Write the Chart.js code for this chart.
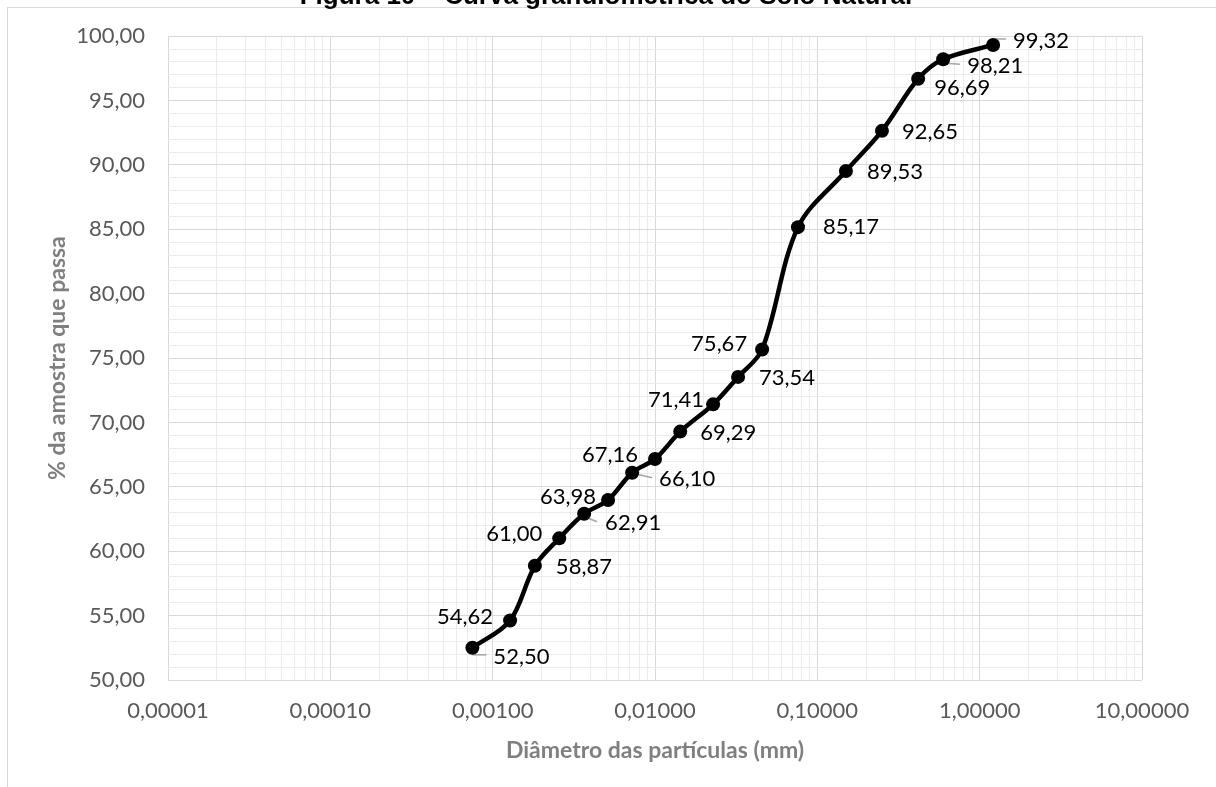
<!DOCTYPE html>
<html lang="pt-BR">
<head>
<meta charset="utf-8">
<title>Curva granulométrica do Solo Natural</title>
<script src="https://cdn.jsdelivr.net/npm/chart.js@4/dist/chart.umd.min.js"></script>
<style>
  html, body { margin: 0; padding: 0; background: #ffffff; }
  #wrap { position: relative; width: 1216px; height: 787px; }
</style>
</head>
<body>
<div id="wrap"><canvas id="grafico" width="1216" height="787"></canvas></div>
<script>
// Ensaio de granulometria: diâmetro (mm) e % passante
const diametrosMm = [0.00075, 0.00128, 0.00182, 0.00257, 0.00366, 0.00514, 0.00723, 0.0100, 0.0143,
                     0.0228, 0.0325, 0.0457, 0.0760, 0.150, 0.250, 0.418, 0.596, 1.21];
const passantes   = [52.50, 54.62, 58.87, 61.00, 62.91, 63.98, 66.10, 67.16, 69.29,
                     71.41, 73.54, 75.67, 85.17, 89.53, 92.65, 96.69, 98.21, 99.32];

// Eixos
const decadasX = [0.00001, 0.0001, 0.001, 0.01, 0.1, 1, 10];
const rotulosX = ['0,00001', '0,00010', '0,00100', '0,01000', '0,10000', '1,00000', '10,00000'];
const valoresY = [50, 55, 60, 65, 70, 75, 80, 85, 90, 95, 100];
const rotulosY = ['50,00', '55,00', '60,00', '65,00', '70,00', '75,00', '80,00', '85,00', '90,00', '95,00', '100,00'];

const tituloFigura = 'Figura 10 – Curva granulométrica do Solo Natural';
const tituloEixoX = 'Diâmetro das partículas (mm)';
const tituloEixoY = '% da amostra que passa';

// Posição de cada rótulo de dado em relação ao ponto (px)
const deslocRotulo = [[49, 9], [-45, -4], [49, 1], [-45, -4], [49, 9], [-40, -3], [55, 6], [-45, -4], [48, 1],
                      [-37, -4], [49, 1], [-43, -6], [53, 0], [49, 1], [48, 1], [44, 9], [52, 7], [48, -4]];
// Linhas de chamada de alguns rótulos: [x0, y0, x1, y1] relativos ao ponto
const linhasChamada = { 0: [0, 7, 14, 7], 4: [3, 4, 13, 8], 6: [3, 1, 20, 5], 16: [2, 4, 17, 5], 17: [2, -6, 13, -6] };

const COR_GRADE_MAIOR = '#d9d9d9';
const COR_GRADE_MENOR = '#ebebeb';
const COR_TEXTO_EIXO = '#595959';
const COR_TITULO_EIXO = '#7f7f7f';
const FONTE = 'Lato, "Open Sans", sans-serif';

const formatar = v => v.toFixed(2).replace('.', ',');
const ehDecada = v => decadasX.some(d => Math.abs(d - v) / d < 1e-9);

// Marcas do eixo x: 1..9 em cada década
const marcasX = [];
for (let i = 0; i < decadasX.length - 1; i++) {
  for (let k = 1; k <= 9; k++) marcasX.push(k * decadasX[i]);
}
marcasX.push(decadasX[decadasX.length - 1]);
// Marcas do eixo y: a cada 1 unidade
const marcasY = [];
for (let v = valoresY[0]; v <= valoresY[valoresY.length - 1]; v++) marcasY.push(v);

const moldura = {
  id: 'moldura',
  beforeDraw(chart) {
    const { ctx, width, height } = chart;
    ctx.save();
    ctx.fillStyle = '#ffffff';
    ctx.fillRect(0, 0, width, height);
    ctx.strokeStyle = '#d9d9d9';
    ctx.lineWidth = 1;
    ctx.strokeRect(7.5, 7.5, width + 20, height + 20);
    ctx.restore();
  },
  afterDraw(chart) {
    const { ctx } = chart;
    ctx.save();
    ctx.fillStyle = '#000000';
    ctx.font = 'bold 26px "Liberation Sans", Arial, sans-serif';
    ctx.textAlign = 'center';
    ctx.textBaseline = 'alphabetic';
    ctx.fillText(tituloFigura, 606, 4);
    ctx.restore();
  }
};

const rotulosDados = {
  id: 'rotulosDados',
  beforeDatasetsDraw(chart) {
    const { ctx } = chart;
    const pts = chart.getDatasetMeta(0).data;
    ctx.save();
    ctx.strokeStyle = '#a6a6a6';
    ctx.lineWidth = 1.5;
    Object.keys(linhasChamada).forEach(k => {
      const p = pts[k];
      const [x0, y0, x1, y1] = linhasChamada[k];
      ctx.beginPath();
      ctx.moveTo(p.x + x0, p.y + y0);
      ctx.lineTo(p.x + x1, p.y + y1);
      ctx.stroke();
    });
    ctx.restore();
  },
  afterDatasetsDraw(chart) {
    const { ctx } = chart;
    const pts = chart.getDatasetMeta(0).data;
    ctx.save();
    ctx.fillStyle = '#000000';
    ctx.font = '22px ' + FONTE;
    ctx.textAlign = 'center';
    ctx.textBaseline = 'middle';
    pts.forEach((p, i) => {
      const [dx, dy] = deslocRotulo[i];
      ctx.fillText(formatar(passantes[i]), p.x + dx, p.y + dy);
    });
    ctx.restore();
  }
};

new Chart(document.getElementById('grafico'), {
  type: 'line',
  data: {
    datasets: [{
      data: diametrosMm.map((d, i) => ({ x: d, y: passantes[i] })),
      borderColor: '#000000',
      backgroundColor: '#000000',
      borderWidth: 4.5,
      tension: 0.33,
      pointRadius: 7,
      pointHoverRadius: 7,
      pointBorderWidth: 0,
      pointBackgroundColor: '#000000',
      fill: false
    }]
  },
  options: {
    responsive: false,
    animation: false,
    devicePixelRatio: 1,
    layout: { padding: { top: 36, right: 74, left: 0, bottom: 0 } },
    plugins: {
      legend: { display: false },
      tooltip: { enabled: false },
      title: { display: false }
    },
    scales: {
      x: {
        type: 'logarithmic',
        min: decadasX[0],
        max: decadasX[decadasX.length - 1],
        afterBuildTicks: s => { s.ticks = marcasX.map(v => ({ value: v })); },
        afterFit: s => { s.height = 107; },
        border: { display: false },
        grid: {
          drawTicks: false,
          lineWidth: 1,
          color: c => (c.tick && ehDecada(c.tick.value)) ? COR_GRADE_MAIOR : COR_GRADE_MENOR
        },
        ticks: {
          autoSkip: false,
          maxRotation: 0,
          padding: 18,
          color: COR_TEXTO_EIXO,
          font: { family: FONTE, size: 22 },
          callback: v => {
            const i = decadasX.findIndex(d => Math.abs(d - v) / d < 1e-9);
            return i >= 0 ? rotulosX[i] : '';
          }
        },
        title: {
          display: true,
          text: tituloEixoX,
          color: COR_TITULO_EIXO,
          font: { family: FONTE, size: 23, weight: 'bold' },
          padding: { top: 0, bottom: 23 }
        }
      },
      y: {
        type: 'linear',
        min: valoresY[0],
        max: valoresY[valoresY.length - 1],
        afterBuildTicks: s => { s.ticks = marcasY.map(v => ({ value: v })); },
        afterFit: s => { s.width = 168; },
        border: { display: false },
        grid: {
          drawTicks: false,
          lineWidth: 1,
          color: c => (c.tick && c.tick.value % 5 === 0) ? COR_GRADE_MAIOR : COR_GRADE_MENOR
        },
        ticks: {
          autoSkip: false,
          padding: 23,
          color: COR_TEXTO_EIXO,
          font: { family: FONTE, size: 22 },
          callback: v => {
            const i = valoresY.indexOf(v);
            return i >= 0 ? rotulosY[i] : '';
          }
        },
        title: {
          display: true,
          text: tituloEixoY,
          color: COR_TITULO_EIXO,
          font: { family: FONTE, size: 23, weight: 'bold' },
          padding: { top: 44, bottom: 0 }
        }
      }
    }
  },
  plugins: [moldura, rotulosDados]
});
</script>
</body>
</html>
